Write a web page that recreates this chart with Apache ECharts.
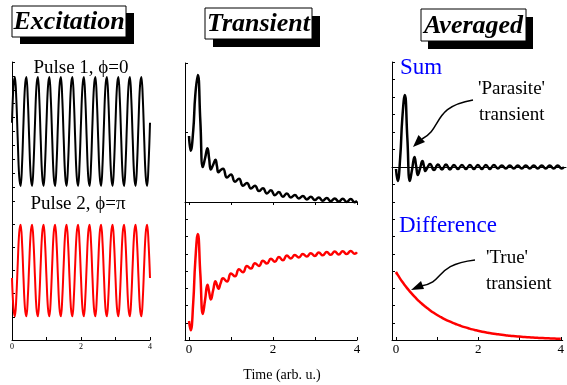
<!DOCTYPE html>
<html>
<head>
<meta charset="utf-8">
<script src="https://cdn.jsdelivr.net/npm/echarts@6/dist/echarts.min.js"></script>
<style>
html,body{margin:0;padding:0;background:#fff;}
#chart{width:567px;height:385px;}
</style>
</head>
<body>
<div id="chart"></div>
<script>
// ---------- Data ----------
const excitationTime = [
  0, 0.042, 0.083, 0.125, 0.167, 0.208, 0.25, 0.292,
  0.333, 0.375, 0.417, 0.458, 0.5, 0.542, 0.583, 0.625,
  0.667, 0.708, 0.75, 0.792, 0.833, 0.875, 0.917, 0.958,
  1, 1.042, 1.083, 1.125, 1.167, 1.208, 1.25, 1.292,
  1.333, 1.375, 1.417, 1.458, 1.5, 1.542, 1.583, 1.625,
  1.667, 1.708, 1.75, 1.792, 1.833, 1.875, 1.917, 1.958,
  2, 2.042, 2.083, 2.125, 2.167, 2.208, 2.25, 2.292,
  2.333, 2.375, 2.417, 2.458, 2.5, 2.542, 2.583, 2.625,
  2.667, 2.708, 2.75, 2.792, 2.833, 2.875, 2.917, 2.958,
  3, 3.042, 3.083, 3.125, 3.167, 3.208, 3.25, 3.292,
  3.333, 3.375, 3.417, 3.458, 3.5, 3.542, 3.583, 3.625,
  3.667, 3.708, 3.75, 3.792, 3.833, 3.875, 3.917, 3.958,
  4
];
const pulse1 = [
  0.16, 0.81, 0.99, 0.59, -0.16, -0.81, -0.99, -0.59,
  0.16, 0.81, 0.99, 0.59, -0.16, -0.81, -0.99, -0.59,
  0.16, 0.81, 0.99, 0.59, -0.16, -0.81, -0.99, -0.59,
  0.16, 0.81, 0.99, 0.59, -0.16, -0.81, -0.99, -0.59,
  0.16, 0.81, 0.99, 0.59, -0.16, -0.81, -0.99, -0.59,
  0.16, 0.81, 0.99, 0.59, -0.16, -0.81, -0.99, -0.59,
  0.16, 0.81, 0.99, 0.59, -0.16, -0.81, -0.99, -0.59,
  0.16, 0.81, 0.99, 0.59, -0.16, -0.81, -0.99, -0.59,
  0.16, 0.81, 0.99, 0.59, -0.16, -0.81, -0.99, -0.59,
  0.16, 0.81, 0.99, 0.59, -0.16, -0.81, -0.99, -0.59,
  0.16, 0.81, 0.99, 0.59, -0.16, -0.81, -0.99, -0.59,
  0.16, 0.81, 0.99, 0.59, -0.16, -0.81, -0.99, -0.59,
  0.16
];
const pulse2 = [
  -0.16, -0.81, -0.99, -0.59, 0.16, 0.81, 0.99, 0.59,
  -0.16, -0.81, -0.99, -0.59, 0.16, 0.81, 0.99, 0.59,
  -0.16, -0.81, -0.99, -0.59, 0.16, 0.81, 0.99, 0.59,
  -0.16, -0.81, -0.99, -0.59, 0.16, 0.81, 0.99, 0.59,
  -0.16, -0.81, -0.99, -0.59, 0.16, 0.81, 0.99, 0.59,
  -0.16, -0.81, -0.99, -0.59, 0.16, 0.81, 0.99, 0.59,
  -0.16, -0.81, -0.99, -0.59, 0.16, 0.81, 0.99, 0.59,
  -0.16, -0.81, -0.99, -0.59, 0.16, 0.81, 0.99, 0.59,
  -0.16, -0.81, -0.99, -0.59, 0.16, 0.81, 0.99, 0.59,
  -0.16, -0.81, -0.99, -0.59, 0.16, 0.81, 0.99, 0.59,
  -0.16, -0.81, -0.99, -0.59, 0.16, 0.81, 0.99, 0.59,
  -0.16, -0.81, -0.99, -0.59, 0.16, 0.81, 0.99, 0.59,
  -0.16
];

const transientTime = [
  0, 0.04, 0.10, 0.15, 0.21, 0.27, 0.33, 0.385, 0.44, 0.48, 0.52, 0.575, 0.63, 0.665, 0.70, 0.755,
  0.81, 0.905, 1.0, 1.095, 1.19, 1.285, 1.38, 1.475, 1.57, 1.665, 1.76, 1.855, 1.95, 2.045, 2.14,
  2.235, 2.33, 2.425, 2.52, 2.615, 2.71, 2.805, 2.90, 2.995, 3.09, 3.185, 3.28, 3.375, 3.47, 3.565,
  3.66, 3.755, 3.85, 3.945, 4.0
];
const transient1 = [
  66, 51.3, 71.0, 107.0, 127.1, 80.9, 34.9, 44.3, 53.8, 43.1, 32.4, 37.3, 42.2, 36.0, 29.8, 32.0,
  33.3, 24.5, 27.5, 20.3, 23.2, 16.3, 19.1, 13.6, 16.2, 10.9, 13.7, 8.6, 11.7, 6.8, 10.0,
  5.3, 8.6, 4.5, 7.0, 3.5, 6.0, 2.6, 5.2, 1.9, 4.6, 1.3, 4.1, 0.8, 3.6, 0.4,
  3.25, 0.1, 2.95, -0.2, 1.25
];
const transient2 = [
  19, 9.7, 37.0, 79.0, 105.9, 66.1, 26.1, 40.7, 55.2, 47.9, 40.6, 49.7, 58.8, 55.0, 51.2, 57.0,
  61.7, 58.5, 66.5, 63.7, 70.8, 67.7, 73.9, 71.4, 76.8, 74.1, 79.3, 76.4, 81.3, 78.2, 83.0,
  79.7, 84.4, 81.5, 85.0, 82.5, 86.0, 83.4, 86.8, 84.1, 87.4, 84.7, 87.9, 85.2, 88.4, 85.6,
  88.75, 85.9, 89.05, 86.2, 87.75
];
const sumSignal = [
  -2, -14, 9.5, 48.5, 72, 29, -14, -2, 10, 1, -8, -1, 6, 1, -4, 0,
  3, -3, 2.5, -2.5, 2.5, -2.5, 2, -2, 2, -2, 2, -2, 2, -2, 2,
  -2, 2, -1.5, 1.5, -1.5, 1.5, -1.5, 1.5, -1.5, 1.5, -1.5, 1.5, -1.5, 1.5, -1.5,
  1.5, -1.5, 1.5, -1.5, 0
];
const differenceSignal = [
  68, 65.3, 61.5, 58.5, 55.1, 51.9, 48.9, 46.3, 43.8, 42.1, 40.4, 38.3, 36.2, 35.0, 33.8, 32.0,
  30.3, 27.5, 25.0, 22.8, 20.7, 18.8, 17.1, 15.6, 14.2, 12.9, 11.7, 10.6, 9.7, 8.8, 8.0,
  7.3, 6.6, 6.0, 5.5, 5.0, 4.5, 4.1, 3.7, 3.4, 3.1, 2.8, 2.6, 2.3, 2.1, 1.9,
  1.75, 1.6, 1.45, 1.3, 1.25
];
const xTickValues = [0, 1, 2, 3, 4];
const xLabelValues = [0, 2, 4];
const panelTitles = ['Excitation', 'Transient', 'Averaged'];

// ---------- Chart ----------
const SERIF = '"Liberation Serif", "Times New Roman", serif';
const pairs = (xs, ys) => xs.map((x, i) => [x, ys[i]]);

const yBase = {
  type: 'value',
  axisLine: {show: true, onZero: false, lineStyle: {color: '#000', width: 1}},
  axisTick: {show: true, inside: true, length: 3, lineStyle: {color: '#000'}},
  axisLabel: {show: false},
  splitLine: {show: false}
};
function yAx(grid, min, max, interval) {
  return Object.assign({}, yBase, {gridIndex: grid, min: min, max: max, interval: interval});
}

const chart = echarts.init(document.getElementById('chart'), null, {renderer: 'canvas'});
const TITLE_FONT = 'italic bold 26px ' + SERIF;

const option = {
  animation: false,
  backgroundColor: '#fff',
  grid: [
    {left: 12, top: 62, width: 138, height: 139},
    {left: 12, top: 201, width: 138, height: 139},
    {left: 185, top: 63, width: 172, height: 139},
    {left: 185, top: 202, width: 172, height: 138},
    {left: 392, top: 62, width: 174, height: 140},
    {left: 392, top: 202, width: 174, height: 138}
  ],
  xAxis: [
    {type: 'value', gridIndex: 0, min: 0, max: 4, show: false},
    {type: 'value', gridIndex: 1, min: 0, max: 4, interval: 1,
      axisLine: {onZero: false, lineStyle: {color: '#000', width: 1}},
      axisTick: {inside: true, length: 3, lineStyle: {color: '#000'}},
      axisLabel: {fontFamily: SERIF, fontSize: 8, color: '#000', margin: 3,
        formatter: v => (v % 2 === 0 ? String(v) : '')},
      splitLine: {show: false}},
    {type: 'value', gridIndex: 2, min: -0.0952, max: 4,
      axisLine: {onZero: false, lineStyle: {color: '#000', width: 1}},
      axisTick: {inside: false, length: 3, customValues: xTickValues, lineStyle: {color: '#000'}},
      axisLabel: {show: false},
      splitLine: {show: false}},
    {type: 'value', gridIndex: 3, min: -0.0952, max: 4,
      axisLine: {onZero: false, lineStyle: {color: '#000', width: 1}},
      axisTick: {inside: true, length: 3, customValues: xTickValues, lineStyle: {color: '#000'}},
      axisLabel: {customValues: xLabelValues, fontFamily: SERIF, fontSize: 13, color: '#000', margin: 3},
      splitLine: {show: false}},
    {type: 'value', gridIndex: 4, min: -0.0952, max: 4.048,
      axisLine: {onZero: true, lineStyle: {color: '#000', width: 1}},
      axisTick: {show: false},
      axisLabel: {show: false},
      splitLine: {show: false}},
    {type: 'value', gridIndex: 5, min: -0.0952, max: 4.048,
      axisLine: {onZero: false, lineStyle: {color: '#000', width: 1}},
      axisTick: {inside: true, length: 3, customValues: xTickValues, lineStyle: {color: '#000'}},
      axisLabel: {customValues: xLabelValues, fontFamily: SERIF, fontSize: 13, color: '#000', margin: 3},
      splitLine: {show: false}}
  ],
  yAxis: [
    yAx(0, -1.264, 1.264, 0.2528),
    yAx(1, -1.5, 1.5, 0.5),
    yAx(2, 0, 139, 69.5),
    yAx(3, 0, 138, 17.25),
    yAx(4, -35, 105, 17.5),
    yAx(5, 0, 138, 17.25)
  ],
  series: [
    {type: 'line', xAxisIndex: 0, yAxisIndex: 0, data: pairs(excitationTime, pulse1),
      showSymbol: false, smooth: 0.4, lineStyle: {color: '#000', width: 2}},
    {type: 'line', xAxisIndex: 1, yAxisIndex: 1, data: pairs(excitationTime, pulse2),
      showSymbol: false, smooth: 0.4, lineStyle: {color: '#ff0000', width: 2}},
    {type: 'line', xAxisIndex: 2, yAxisIndex: 2, data: pairs(transientTime, transient1),
      showSymbol: false, smooth: 0.5, clip: false, lineStyle: {color: '#000', width: 2.5}},
    {type: 'line', xAxisIndex: 3, yAxisIndex: 3, data: pairs(transientTime, transient2),
      showSymbol: false, smooth: 0.5, lineStyle: {color: '#ff0000', width: 2.5}},
    {type: 'line', xAxisIndex: 4, yAxisIndex: 4, data: pairs(transientTime, sumSignal),
      showSymbol: false, smooth: 0.5, lineStyle: {color: '#000', width: 2.5}},
    {type: 'line', xAxisIndex: 5, yAxisIndex: 5, data: pairs(transientTime, differenceSignal),
      showSymbol: false, smooth: 0.5, lineStyle: {color: '#ff0000', width: 2.5}}
  ],
  graphic: [
    // title boxes with drop shadow
    {type: 'rect', shape: {x: 20, y: 13, width: 114, height: 31}, style: {fill: '#000'}},
    {type: 'rect', shape: {x: 12, y: 6, width: 114, height: 31}, style: {fill: '#fff', stroke: '#000', lineWidth: 1}},
    {type: 'text', x: 69, y: 22.5, style: {text: panelTitles[0], align: 'center', verticalAlign: 'middle',
      font: TITLE_FONT, fill: '#000'}},
    {type: 'rect', shape: {x: 213, y: 16, width: 107, height: 31}, style: {fill: '#000'}},
    {type: 'rect', shape: {x: 205, y: 8, width: 107, height: 31}, style: {fill: '#fff', stroke: '#000', lineWidth: 1}},
    {type: 'text', x: 258.5, y: 24.5, style: {text: panelTitles[1], align: 'center', verticalAlign: 'middle',
      font: TITLE_FONT, fill: '#000'}},
    {type: 'rect', shape: {x: 428, y: 17, width: 105, height: 32}, style: {fill: '#000'}},
    {type: 'rect', shape: {x: 421, y: 9, width: 105, height: 32}, style: {fill: '#fff', stroke: '#000', lineWidth: 1}},
    {type: 'text', x: 473.5, y: 26, style: {text: panelTitles[2], align: 'center', verticalAlign: 'middle',
      font: TITLE_FONT, fill: '#000'}},
    // pulse labels
    {type: 'text', x: 81, y: 68, style: {text: 'Pulse 1, \u03d5=0', align: 'center', verticalAlign: 'middle',
      font: '19px ' + SERIF, fill: '#000'}},
    {type: 'text', x: 78, y: 204, style: {text: 'Pulse 2, \u03d5=\u03c0', align: 'center', verticalAlign: 'middle',
      font: '19px ' + SERIF, fill: '#000'}},
    // Sum / Difference
    {type: 'text', x: 400, y: 68, style: {text: 'Sum', align: 'left', verticalAlign: 'middle',
      font: '23px ' + SERIF, fill: '#0000ff'}},
    {type: 'text', x: 399, y: 226, style: {text: 'Difference', align: 'left', verticalAlign: 'middle',
      font: '23px ' + SERIF, fill: '#0000ff'}},
    // annotations
    {type: 'text', x: 478, y: 89, style: {text: "'Parasite'", align: 'left', verticalAlign: 'middle',
      font: '19px ' + SERIF, fill: '#000'}},
    {type: 'text', x: 479, y: 115, style: {text: 'transient', align: 'left', verticalAlign: 'middle',
      font: '19px ' + SERIF, fill: '#000'}},
    {type: 'text', x: 486, y: 258, style: {text: "'True'", align: 'left', verticalAlign: 'middle',
      font: '19px ' + SERIF, fill: '#000'}},
    {type: 'text', x: 486, y: 284, style: {text: 'transient', align: 'left', verticalAlign: 'middle',
      font: '19px ' + SERIF, fill: '#000'}},
    // arrows
    {type: 'bezierCurve', shape: {x1: 473, y1: 100, cpx1: 432, cpy1: 107, cpx2: 443, cpy2: 128, x2: 422, y2: 139},
      style: {stroke: '#000', lineWidth: 1.5, fill: null}},
    {type: 'polygon', shape: {points: [[413, 147], [425, 142], [418.5, 135]]}, style: {fill: '#000'}},
    {type: 'bezierCurve', shape: {x1: 475, y1: 260, cpx1: 433, cpy1: 265, cpx2: 446, cpy2: 282, x2: 421, y2: 286},
      style: {stroke: '#000', lineWidth: 1.5, fill: null}},
    {type: 'polygon', shape: {points: [[411, 290], [424, 289], [421, 281]]}, style: {fill: '#000'}},
    // x axis title
    {type: 'text', x: 282, y: 375, style: {text: 'Time (arb. u.)', align: 'center', verticalAlign: 'middle',
      font: '14px ' + SERIF, fill: '#000'}}
  ]
};
chart.setOption(option);
</script>
</body>
</html>
